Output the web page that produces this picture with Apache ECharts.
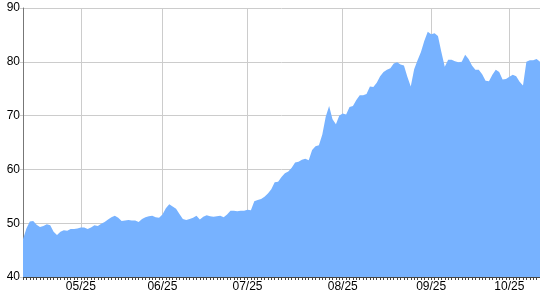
<!DOCTYPE html>
<html>
<head>
<meta charset="utf-8">
<script src="https://cdn.jsdelivr.net/npm/echarts@6/dist/echarts.min.js"></script>
<style>html,body{margin:0;padding:0;background:#fff}#c{width:540px;height:300px}</style>
</head>
<body>
<div id="c"></div>
<script>
const values = [
47.0,49.0,50.3,50.4,49.7,49.3,49.5,49.8,49.6,48.4,
47.8,48.4,48.7,48.6,48.9,48.9,49.0,49.2,49.2,48.9,
49.2,49.6,49.5,49.9,50.2,50.7,51.1,51.4,51.0,50.4,
50.5,50.6,50.5,50.5,50.2,50.8,51.1,51.3,51.4,51.1,
51.0,51.6,52.8,53.5,53.1,52.7,51.7,50.8,50.6,50.8,
51.0,51.4,50.7,51.2,51.5,51.3,51.2,51.3,51.4,51.1,
51.6,52.3,52.3,52.2,52.3,52.3,52.5,52.4,54.1,54.3,
54.5,54.9,55.5,56.3,57.6,57.7,58.6,59.3,59.6,60.3,
61.3,61.4,61.8,62.0,61.7,63.6,64.3,64.5,66.5,69.8,
71.8,69.3,68.4,70.0,70.4,70.2,71.6,71.8,72.9,73.8,
73.8,74.0,75.4,75.3,76.1,77.3,78.1,78.5,78.8,79.7,
79.9,79.5,79.3,77.2,75.4,78.6,80.3,81.8,83.9,85.6,
85.1,85.3,84.8,81.8,79.1,80.4,80.4,80.1,79.9,80.0,
81.3,80.5,79.3,78.5,78.5,77.7,76.5,76.4,77.6,78.5,
78.1,76.7,76.8,77.2,77.6,77.3,76.3,75.6,80.0,80.3,
80.3,80.5,80.0
];
const monthLabels = ['05/25','06/25','07/25','08/25','09/25','10/25'];
const monthLabelIndex = [17, 41, 66, 94, 120, 143];
const yTicks = [40, 50, 60, 70, 80, 90];

const categories = values.map((v, i) => String(i));
const labelAt = {};
monthLabelIndex.forEach((idx, k) => { labelAt[idx] = monthLabels[k]; });
const isLabel = (i) => labelAt[i] !== undefined;

const chart = echarts.init(document.getElementById('c'), null, {renderer: 'canvas'});
chart.setOption({
  animation: false,
  grid: {left: 23, right: 0, top: 8, bottom: 23, containLabel: false},
  xAxis: {
    type: 'category',
    data: categories,
    boundaryGap: false,
    axisLine: {show: true, lineStyle: {color: '#444', width: 1}},
    axisTick: {show: true, interval: 0, length: 3, lineStyle: {color: '#444'}},
    axisLabel: {
      interval: (i) => isLabel(i),
      formatter: (v, i) => labelAt[i] || '',
      color: '#000', fontSize: 12, fontFamily: 'Liberation Sans', margin: 4
    },
    splitLine: {show: true, interval: (i) => isLabel(i), lineStyle: {color: '#cccccc', width: 1}}
  },
  yAxis: {
    type: 'value',
    min: yTicks[0], max: yTicks[yTicks.length - 1], interval: 10,
    axisLine: {show: true, lineStyle: {color: '#777', width: 1}},
    axisTick: {show: true, length: 3, lineStyle: {color: '#cccccc'}},
    axisLabel: {color: '#000', fontSize: 12, fontFamily: 'Liberation Sans', margin: 3},
    splitLine: {show: true, lineStyle: {color: '#cccccc', width: 1}}
  },
  series: [{
    type: 'line',
    data: values,
    symbol: 'none',
    lineStyle: {width: 0, color: '#77b2ff'},
    areaStyle: {color: '#77b2ff', opacity: 1},
    itemStyle: {color: '#77b2ff'}
  }]
});
</script>
</body>
</html>
